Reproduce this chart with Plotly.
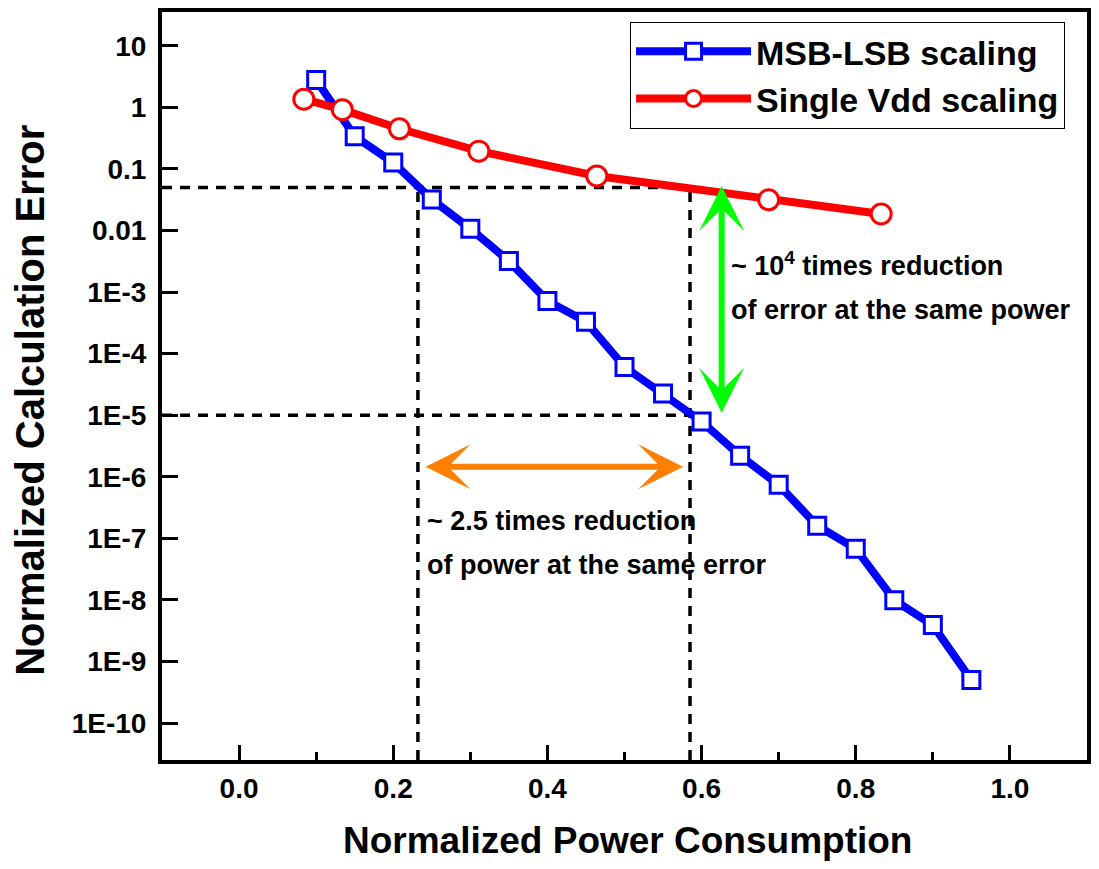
import math
import plotly.graph_objects as go

# ---------------- data ----------------
msb_power = [0.10, 0.15, 0.20, 0.25, 0.30, 0.35, 0.40, 0.45, 0.50,
             0.55, 0.60, 0.65, 0.70, 0.75, 0.80, 0.85, 0.90, 0.95]
msb_error = [2.8, 0.34, 0.127, 0.032, 0.0107, 0.0032, 7.2e-4, 3.3e-4, 6.1e-5,
             2.26e-5, 7.9e-6, 2.2e-6, 7.4e-7, 1.6e-7, 6.8e-8, 9.9e-9, 3.9e-9, 5.0e-10]

vdd_power = [0.084, 0.134, 0.208, 0.311, 0.464, 0.687, 0.833]
vdd_error = [1.36, 0.92, 0.45, 0.195, 0.077, 0.0316, 0.0186]

# guide lines
guide_error_levels = [0.05, 1e-5]      # horizontal dashed lines
guide_power_levels = [0.232, 0.585]    # vertical dashed lines

# arrows
error_arrow_power = 0.626
error_arrow_span = [0.053, 1.04e-5]
power_arrow_error = 1.45e-6
power_arrow_span = [0.240, 0.576]

y_tickvals = [1e-10, 1e-9, 1e-8, 1e-7, 1e-6, 1e-5, 1e-4, 1e-3, 0.01, 0.1, 1, 10]
y_ticktext = ["1E-10", "1E-9", "1E-8", "1E-7", "1E-6", "1E-5", "1E-4", "1E-3",
              "0.01", "0.1", "1", "10"]
x_tickvals = [0.0, 0.2, 0.4, 0.6, 0.8, 1.0]
x_ticktext = ["0.0", "0.2", "0.4", "0.6", "0.8", "1.0"]

x_range = [-0.1, 1.1]
y_range_log = [-10.6, 1.55]

FONT = "Arial, Liberation Sans, sans-serif"
dash = "10px,8px"

fig = go.Figure()

# dashed guide lines
y_bottom = 10 ** y_range_log[0]
for lvl in guide_error_levels:
    fig.add_trace(go.Scatter(x=[x_range[0], guide_power_levels[1]], y=[lvl, lvl],
                             mode="lines", line=dict(color="black", width=3.5, dash=dash),
                             showlegend=False, hoverinfo="skip"))
for p in guide_power_levels:
    fig.add_trace(go.Scatter(x=[p, p], y=[y_bottom, guide_error_levels[0]],
                             mode="lines", line=dict(color="black", width=3.5, dash=dash),
                             showlegend=False, hoverinfo="skip"))

fig.add_trace(go.Scatter(
    x=msb_power, y=msb_error, mode="lines+markers", name="MSB-LSB scaling",
    line=dict(color="#0000FF", width=8),
    marker=dict(symbol="square", size=17, color="white",
                line=dict(color="#0000FF", width=3)),
))
fig.add_trace(go.Scatter(
    x=vdd_power, y=vdd_error, mode="lines+markers", name="Single Vdd scaling",
    line=dict(color="#FF0000", width=8),
    marker=dict(symbol="circle", size=20, color="white",
                line=dict(color="#FF0000", width=3)),
))

annotations = []
# green vertical double arrow
annotations.append(dict(
    x=error_arrow_power, y=math.log10(error_arrow_span[0]),
    ax=error_arrow_power, ay=math.log10(error_arrow_span[1]),
    xref="x", yref="y", axref="x", ayref="y", text="",
    showarrow=True, arrowhead=3, startarrowhead=3, arrowside="end+start",
    arrowwidth=6, arrowsize=1.25, startarrowsize=1.25, arrowcolor="#00FF00",
    standoff=0, startstandoff=0,
))
# orange horizontal double arrow
annotations.append(dict(
    x=power_arrow_span[1], y=math.log10(power_arrow_error),
    ax=power_arrow_span[0], ay=math.log10(power_arrow_error),
    xref="x", yref="y", axref="x", ayref="y", text="",
    showarrow=True, arrowhead=3, startarrowhead=3, arrowside="end+start",
    arrowwidth=6, arrowsize=1.25, startarrowsize=1.25, arrowcolor="#FF8000",
    standoff=0, startstandoff=0,
))

txt_font = dict(family=FONT, size=27, color="black", weight="bold")
texts = [
    ("~ 10<sup>4</sup> times reduction", 0.636, -2.55),
    ("of error at the same power", 0.636, -3.29),
    ("~ 2.5 times reduction", 0.2416, -6.71),
    ("of power at the same error", 0.2416, -7.44),
]
for t, xx, yy in texts:
    annotations.append(dict(text=t, x=xx, y=yy, xref="x", yref="y",
                            xanchor="left", yanchor="middle", showarrow=False,
                            font=txt_font))

# axis titles as annotations
annotations.append(dict(text="Normalized Power Consumption", x=0.503, y=-0.108,
                        xref="paper", yref="paper", xanchor="center", yanchor="middle",
                        showarrow=False,
                        font=dict(family=FONT, size=37, color="black", weight="bold")))
annotations.append(dict(text="Normalized Calculation Error", x=-0.142, y=0.481,
                        xref="paper", yref="paper", xanchor="center", yanchor="middle",
                        showarrow=False, textangle=-90,
                        font=dict(family=FONT, size=40, color="black", weight="bold")))

tick_font = dict(family=FONT, size=28, color="black", weight="bold")

fig.update_layout(
    width=1083, height=853,
    margin=dict(l=154, r=0, t=0, b=101),
    paper_bgcolor="white", plot_bgcolor="white",
    showlegend=True,
    legend=dict(x=0.506, y=0.987, xanchor="left", yanchor="top",
                bgcolor="white", bordercolor="black", borderwidth=1,
                font=dict(family=FONT, size=34, color="black", weight="bold"),
                tracegroupgap=0, itemwidth=115),
    xaxis=dict(range=x_range, tickvals=x_tickvals, ticktext=x_ticktext,
               ticks="inside", ticklen=15, tickwidth=3, tickcolor="black",
               showline=True, linewidth=4, linecolor="black", mirror=True,
               showgrid=False, zeroline=False, tickfont=tick_font,
               ticklabelstandoff=0,
               minor=dict(dtick=0.1, tick0=0, ticks="inside", ticklen=8,
                          tickwidth=3, tickcolor="black", showgrid=False)),
    yaxis=dict(type="log", range=y_range_log, tickvals=y_tickvals, ticktext=y_ticktext,
               ticks="inside", ticklen=16, tickwidth=3, tickcolor="black",
               showline=True, linewidth=4, linecolor="black", mirror=True,
               showgrid=False, zeroline=False, tickfont=tick_font,
               ticklabelstandoff=6),
    annotations=annotations,
)

fig.write_html("out.html")
